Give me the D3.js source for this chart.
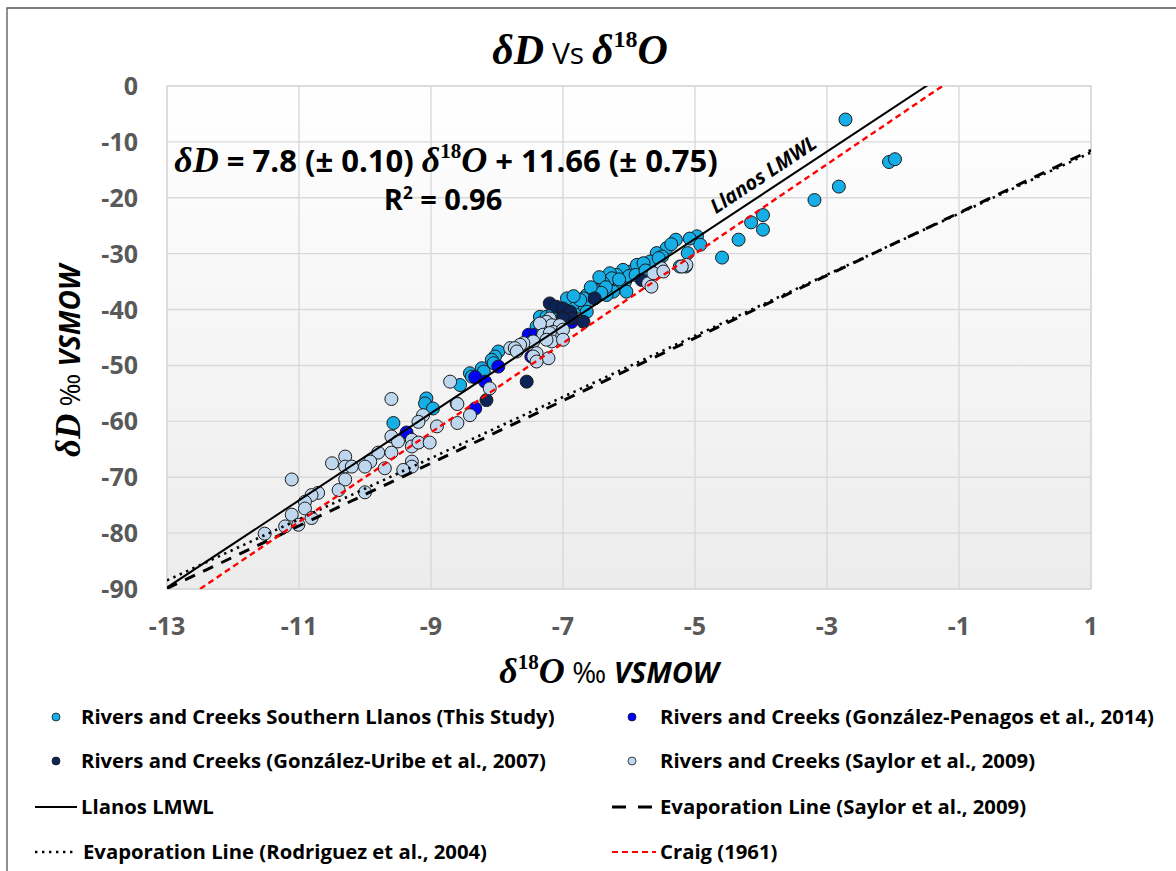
<!DOCTYPE html>
<html><head><meta charset="utf-8">
<script src="https://cdn.jsdelivr.net/npm/d3@7"></script>
<style>body{margin:0;background:#fff}</style>
</head><body>
<svg id="chart" width="1176" height="871"></svg>
<script>
// ---------------- DATA ----------------
const xTicks = [-13, -11, -9, -7, -5, -3, -1, 1];
const yTicks = [0, -10, -20, -30, -40, -50, -60, -70, -80, -90];

// Rivers and Creeks Southern Llanos (This Study)  [δ18O, δD]
const studyPoints = [
  [-2.72,-6.0],[-2.06,-13.6],[-1.97,-13.1],[-2.82,-18.0],[-3.19,-20.4],[-3.97,-23.1],
  [-4.15,-24.4],[-3.97,-25.7],[-4.34,-27.5],[-4.59,-30.7],[-4.97,-26.9],[-5.08,-27.3],
  [-5.29,-27.5],[-4.92,-28.4],[-5.11,-29.9],[-5.23,-32.3],[-5.14,-32.3],[-5.43,-29.0],
  [-5.58,-29.9],[-5.68,-31.4],[-5.83,-32.3],[-5.98,-33.2],[-6.09,-32.9],[-6.19,-33.8],
  [-6.29,-33.5],[-6.26,-34.4],[-6.06,-35.0],[-6.14,-35.6],[-6.04,-36.8],[-6.24,-36.8],
  [-6.39,-35.3],[-6.34,-37.4],[-6.52,-36.5],[-6.52,-37.7],[-6.64,-37.4],[-6.69,-38.0],
  [-6.79,-38.6],[-6.77,-39.5],[-6.89,-38.6],[-6.94,-39.5],[-6.67,-39.5],[-6.64,-40.4],
  [-5.88,-32.0],[-5.78,-31.7],[-6.84,-38.9],[-6.74,-38.3],[-6.87,-41.0],[-5.36,-28.3],
  [-5.50,-30.5],[-6.94,-38.0],[-6.84,-37.6],[-7.10,-41.3],[-7.35,-41.3],[-7.25,-41.3],
  [-7.40,-43.0],[-7.98,-47.5],[-8.03,-48.4],[-8.08,-49.0],[-8.05,-49.6],[-8.23,-50.5],
  [-8.20,-51.1],[-8.41,-51.4],[-8.38,-52.0],[-8.56,-53.5],[-9.07,-55.9],[-9.09,-56.8],
  [-8.97,-57.7],[-9.57,-60.3],[-7.05,-40.0],[-7.15,-40.5],[-6.45,-34.2],[-6.00,-34.0],
  [-5.90,-33.8],[-6.35,-36.0],[-5.55,-30.8],[-5.75,-33.0],[-6.15,-34.6],[-6.42,-37.0],
  [-6.58,-36.0]
];
// Rivers and Creeks (González-Penagos et al., 2014)
const penagosPoints = [
  [-7.52,-44.5],[-7.42,-44.5],[-7.48,-48.4],[-7.98,-50.2],[-8.33,-52.1],[-8.18,-52.9],
  [-8.33,-57.7],[-9.37,-62.0],[-6.87,-42.2]
];
// Rivers and Creeks (González-Uribe et al., 2007)
const uribePoints = [
  [-7.20,-38.9],[-7.10,-39.5],[-7.00,-39.8],[-6.89,-40.7],[-7.00,-41.3],[-6.69,-42.2],
  [-6.89,-40.4],[-6.87,-41.6],[-7.00,-41.6],[-7.55,-52.9],[-8.16,-56.2],[-5.81,-34.7],
  [-6.52,-38.0]
];
// Rivers and Creeks (Saylor et al., 2009)
const saylorPoints = [
  [-5.13,-32.0],[-5.20,-32.3],[-5.51,-32.6],[-5.71,-35.3],[-5.66,-35.9],[-5.63,-33.5],
  [-5.48,-33.2],[-7.20,-41.6],[-7.25,-42.2],[-7.17,-42.8],[-7.05,-42.8],[-7.30,-44.0],
  [-7.15,-44.0],[-7.05,-44.5],[-7.35,-42.5],[-7.30,-44.5],[-7.20,-44.2],[-7.00,-43.6],
  [-7.17,-45.7],[-7.25,-45.4],[-7.00,-45.4],[-7.45,-45.7],[-7.60,-46.0],[-7.65,-46.3],
  [-7.80,-46.9],[-7.73,-46.9],[-7.70,-47.5],[-7.40,-47.8],[-7.45,-48.4],[-7.22,-48.7],
  [-7.40,-49.3],[-8.71,-52.9],[-8.11,-54.1],[-8.61,-56.8],[-8.41,-58.9],[-9.60,-56.0],
  [-9.12,-58.9],[-9.19,-60.1],[-8.91,-60.9],[-9.60,-62.7],[-9.50,-63.6],[-9.29,-63.3],
  [-9.29,-64.5],[-9.19,-63.8],[-9.02,-63.8],[-9.80,-65.6],[-9.60,-65.6],[-9.92,-67.2],
  [-10.00,-68.1],[-9.70,-68.4],[-9.29,-67.2],[-9.29,-68.1],[-9.42,-68.7],[-10.30,-66.3],
  [-10.30,-68.1],[-10.20,-68.1],[-10.50,-67.5],[-10.30,-70.4],[-11.11,-70.4],[-10.40,-72.3],
  [-10.00,-72.7],[-10.71,-72.8],[-10.81,-73.2],[-10.91,-74.4],[-10.91,-75.6],[-11.11,-76.7],
  [-10.81,-77.3],[-11.21,-78.8],[-11.01,-78.5],[-11.52,-80.1],[-8.60,-56.9],[-8.60,-60.3]
];

const pointSeriesNames = [
  "Rivers and Creeks Southern Llanos (This Study)",
  "Rivers and Creeks (González-Penagos et al., 2014)",
  "Rivers and Creeks (González-Uribe et al., 2007)",
  "Rivers and Creeks (Saylor et al., 2009)"
];
const pointSeriesData = [studyPoints, penagosPoints, uribePoints, saylorPoints];

// Reference lines: δD = slope * δ18O + intercept
const lineNames = ["Llanos LMWL", "Evaporation Line (Saylor et al., 2009)",
                   "Evaporation Line (Rodriguez et al., 2004)", "Craig (1961)"];
const lineSlopes = [7.8, 5.6, 5.47, 8];
const lineIntercepts = [11.66, -17.1, -17.35, 10];

// ---------------- STYLE ----------------
const pointColors = ["#16AEE6", "#0000FF", "#0B2356", "#BFD7EE"];
const lineColors = ["#000", "#000", "#000", "#FF0000"];
const lineWidths = [2, 3, 2.6, 2.4];
const lineDash = [null, "11,9", "2.4,4.6", "6,4"];

const SANS = "'Open Sans', Lato, sans-serif";
const SERIF = "'Liberation Serif', 'DejaVu Serif', serif";
const GRAY = "#595959";

const W = 1176, H = 871;
const plot = {l: 167, r: 1091, t: 86, b: 589};

const svg = d3.select("#chart");
svg.append("rect").attr("width", W).attr("height", H).attr("fill", "#fff");
svg.append("path").attr("d", `M7,${H} V8 H${W}`).attr("fill", "none")
  .attr("stroke", "#555").attr("stroke-width", 1.3);

const x = d3.scaleLinear().domain([-13, 1]).range([plot.l, plot.r]);
const y = d3.scaleLinear().domain([-90, 0]).range([plot.b, plot.t]);

const defs = svg.append("defs");
const grad = defs.append("linearGradient").attr("id", "bg")
  .attr("x1", 0).attr("y1", 0).attr("x2", 0).attr("y2", 1);
grad.append("stop").attr("offset", "0%").attr("stop-color", "#ffffff");
grad.append("stop").attr("offset", "100%").attr("stop-color", "#ececec");
defs.append("clipPath").attr("id", "clip").append("rect")
  .attr("x", plot.l).attr("y", plot.t).attr("width", plot.r - plot.l).attr("height", plot.b - plot.t);

svg.append("rect").attr("x", plot.l).attr("y", plot.t)
  .attr("width", plot.r - plot.l).attr("height", plot.b - plot.t).attr("fill", "url(#bg)");

// gridlines
const grid = svg.append("g").attr("stroke", "#d9d9d9").attr("stroke-width", 1.4);
grid.selectAll("line.v").data(xTicks).join("line")
  .attr("x1", d => x(d)).attr("x2", d => x(d)).attr("y1", plot.t).attr("y2", plot.b);
grid.selectAll("line.h").data(yTicks).join("line").attr("class", "h")
  .attr("y1", d => y(d)).attr("y2", d => y(d)).attr("x1", plot.l).attr("x2", plot.r);
svg.append("rect").attr("x", plot.l).attr("y", plot.t)
  .attr("width", plot.r - plot.l).attr("height", plot.b - plot.t)
  .attr("fill", "none").attr("stroke", "#d9d9d9").attr("stroke-width", 1.4);

// points
const pts = svg.append("g").attr("clip-path", "url(#clip)");
pointSeriesData.forEach((data, i) => {
  pts.append("g").selectAll("circle").data(data).join("circle")
    .attr("cx", d => x(d[0])).attr("cy", d => y(d[1])).attr("r", 6.5)
    .attr("fill", pointColors[i]).attr("stroke", "#1a1a1a").attr("stroke-width", 1);
});

// lines
const lineGen = d3.line().x(d => x(d[0])).y(d => y(d[1]));
const lg = svg.append("g").attr("clip-path", "url(#clip)");
[1, 2, 3, 0].forEach(i => {
  const ends = x.domain().map(v => [v, lineSlopes[i] * v + lineIntercepts[i]]);
  lg.append("path").attr("d", lineGen(ends)).attr("fill", "none")
    .attr("stroke", lineColors[i]).attr("stroke-width", lineWidths[i])
    .attr("stroke-dasharray", lineDash[i]);
});

// LMWL label
{
  const a = -3.83;
  const px = x(a), py = y(lineSlopes[0] * a + lineIntercepts[0]);
  const dx = x(0) - x(-1), dy = y(lineSlopes[0] * 0) - y(lineSlopes[0] * -1);
  const ang = Math.atan2(dy, dx) * 180 / Math.PI;
  svg.append("text").attr("transform", `translate(${px},${py}) rotate(${ang}) translate(0,-9)`)
    .attr("text-anchor", "middle").attr("font-family", SANS).attr("font-weight", 700)
    .attr("font-style", "italic").attr("font-size", 20).attr("fill", "#000").text("Llanos LMWL");
}

// equation
{
  const t = svg.append("text").attr("x", 446).attr("y", 172).attr("text-anchor", "middle")
    .attr("font-size", 31).attr("font-weight", 700).attr("fill", "#000");
  t.append("tspan").attr("font-family", SERIF).attr("font-style", "italic").attr("font-size", 36).text("δD");
  t.append("tspan").attr("font-family", SANS).text(" = 7.8 (± 0.10) ");
  t.append("tspan").attr("font-family", SERIF).attr("font-style", "italic").attr("font-size", 36).text("δ");
  t.append("tspan").attr("font-family", SERIF).attr("font-size", 21).attr("dy", -14).text("18");
  t.append("tspan").attr("font-family", SERIF).attr("font-style", "italic").attr("font-size", 36).attr("dy", 14).text("O");
  t.append("tspan").attr("font-family", SANS).text(" + 11.66 (± 0.75)");
  const r = svg.append("text").attr("x", 443).attr("y", 210).attr("text-anchor", "middle")
    .attr("font-family", SANS).attr("font-size", 29).attr("font-weight", 700).attr("fill", "#000");
  r.append("tspan").text("R");
  r.append("tspan").attr("font-size", 17).attr("dy", -11).text("2");
  r.append("tspan").attr("dy", 11).text(" = 0.96");
}

// tick labels
svg.append("g").selectAll("text").data(yTicks).join("text")
  .attr("x", 138).attr("y", d => y(d)).attr("dy", "0.36em").attr("text-anchor", "end")
  .attr("font-family", SANS).attr("font-weight", 700).attr("font-size", 25).attr("fill", GRAY)
  .text(d => d);
svg.append("g").selectAll("text").data(xTicks).join("text")
  .attr("x", d => x(d)).attr("y", 635).attr("text-anchor", "middle")
  .attr("font-family", SANS).attr("font-weight", 700).attr("font-size", 25).attr("fill", GRAY)
  .text(d => d);

// axis titles
function isoLabel(g, main, s) {
  g.append("tspan").attr("font-family", SERIF).attr("font-style", "italic").attr("font-size", 36 * s).text("δ");
  if (main === "O") {
    g.append("tspan").attr("font-family", SERIF).attr("font-size", 21 * s).attr("dy", -14 * s).text("18");
    g.append("tspan").attr("font-family", SERIF).attr("font-style", "italic").attr("font-size", 36 * s).attr("dy", 14 * s).text("O");
  } else {
    g.append("tspan").attr("font-family", SERIF).attr("font-style", "italic").attr("font-size", 36 * s).text("D");
  }
  g.append("tspan").attr("font-family", SANS).attr("font-weight", 400).attr("font-style", "normal").text(" ‰ ");
  g.append("tspan").attr("font-family", SANS).attr("font-style", "italic").text("VSMOW");
}
{
  const t = svg.append("text").attr("x", 609).attr("y", 683).attr("text-anchor", "middle")
    .attr("font-size", 29).attr("font-weight", 700).attr("fill", "#000");
  isoLabel(t, "O", 1);
  const t2 = svg.append("text").attr("transform", "translate(80,361) rotate(-90)").attr("text-anchor", "middle")
    .attr("font-size", 28).attr("font-weight", 700).attr("fill", "#000");
  isoLabel(t2, "D", 0.97);
}

// title
{
  const t = svg.append("text").attr("x", 580).attr("y", 64).attr("text-anchor", "middle")
    .attr("font-weight", 700).attr("fill", "#000").attr("font-size", 42);
  t.append("tspan").attr("font-family", SERIF).attr("font-style", "italic").text("δD");
  t.append("tspan").attr("font-family", SANS).attr("font-weight", 400).attr("font-size", 30).text(" Vs ");
  t.append("tspan").attr("font-family", SERIF).attr("font-style", "italic").text("δ");
  t.append("tspan").attr("font-family", SERIF).attr("font-size", 24).attr("dy", -17).text("18");
  t.append("tspan").attr("font-family", SERIF).attr("font-style", "italic").attr("dy", 17).text("O");
}

// legend
{
  const colX = [56, 632];
  const textX = [81, 660];
  const rowY = [717, 761, 807, 852];
  const lg2 = svg.append("g").attr("font-family", SANS).attr("font-weight", 700).attr("font-size", 20.3);
  pointSeriesNames.forEach((n, i) => {
    const cx = colX[i % 2], cy = rowY[Math.floor(i / 2)];
    lg2.append("circle").attr("cx", cx).attr("cy", cy).attr("r", 4)
      .attr("fill", pointColors[i]).attr("stroke", "#1a1a1a").attr("stroke-width", 0.8);
    lg2.append("text").attr("x", textX[i % 2]).attr("y", cy).attr("dy", "0.36em").text(n);
  });
  const lineX0 = [35, 612], lineX1 = [77, 652];
  [0, 1, 2, 3].forEach((li, k) => {
    const c = k % 2, cy = rowY[2 + Math.floor(k / 2)];
    lg2.append("line").attr("x1", lineX0[c]).attr("x2", li === 3 ? 656 : lineX1[c]).attr("y1", cy).attr("y2", cy)
      .attr("stroke", lineColors[li]).attr("stroke-width", li === 3 ? 2 : lineWidths[li])
      .attr("stroke-dasharray", li === 1 ? "14,12" : lineDash[li]);
    lg2.append("text").attr("x", c === 0 ? (li === 2 ? 83 : 81) : 660).attr("y", cy).attr("dy", "0.36em").text(lineNames[li]);
  });
}
</script>
</body></html>
